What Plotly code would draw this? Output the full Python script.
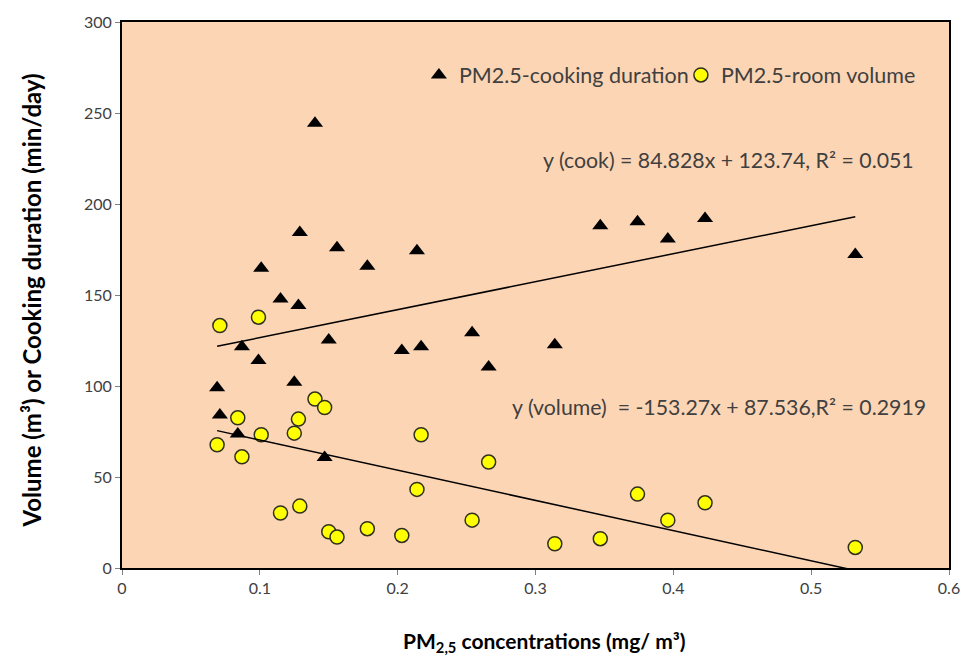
import numpy as np
import plotly.graph_objects as go

# PM2.5 concentration of each household (mg/m3)
pm25 = [0.069, 0.071, 0.084, 0.087, 0.099, 0.101, 0.115, 0.125, 0.128, 0.129,
        0.140, 0.147, 0.150, 0.156, 0.178, 0.203, 0.214, 0.217, 0.254, 0.266,
        0.314, 0.347, 0.374, 0.396, 0.423, 0.532]

# Cooking duration (min/day)
cooking_duration = [99.0, 84.0, 73.6, 121.6, 114.0, 164.7, 147.8, 102.1, 144.2, 184.4,
                    244.3, 60.7, 125.3, 176.0, 165.8, 119.5, 174.3, 121.6, 129.2, 110.5,
                    122.6, 188.0, 190.3, 180.8, 192.1, 172.2]

# Room volume (m3)
room_volume = [67.7, 133.2, 82.5, 61.1, 137.8, 73.2, 30.2, 74.1, 81.8, 34.0,
               92.8, 88.2, 19.9, 17.0, 21.6, 17.9, 43.2, 73.2, 26.3, 58.2,
               13.3, 16.1, 40.6, 26.3, 35.8, 11.3]

x_ticks = [0, 0.1, 0.2, 0.3, 0.4, 0.5, 0.6]
y_ticks = [0, 50, 100, 150, 200, 250, 300]

cook_eq = "y (cook) = 84.828x + 123.74, R² = 0.051"
vol_eq = "y (volume)  = -153.27x + 87.536,R² = 0.2919"

FONT = "Lato"
TEXT = "#404040"

x = np.array(pm25)
x_line = np.array([x.min(), x.max()])


def linear_fit(y):
    slope, intercept = np.polyfit(x, np.array(y), 1)
    return slope * x_line + intercept


fig = go.Figure()

fig.add_trace(go.Scatter(
    x=pm25, y=cooking_duration, mode="markers",
    name="PM2.5-cooking duration",
    marker=dict(symbol="triangle-up", size=14, color="black",
                line=dict(width=0)),
))
fig.add_trace(go.Scatter(
    x=pm25, y=room_volume, mode="markers",
    name="PM2.5-room volume",
    marker=dict(symbol="circle", size=14, color="#FFFF00",
                line=dict(width=1.5, color="#303020")),
))

# Linear trend lines
for y in (cooking_duration, room_volume):
    fig.add_trace(go.Scatter(
        x=x_line, y=linear_fit(y), mode="lines", showlegend=False,
        line=dict(color="black", width=1.5), hoverinfo="skip",
    ))

fig.add_annotation(x=0.4397, y=224, xref="x", yref="y", text=cook_eq,
                   showarrow=False, font=dict(family=FONT, size=21.3, color=TEXT))
fig.add_annotation(x=0.4332, y=88.5, xref="x", yref="y", text=vol_eq,
                   showarrow=False, font=dict(family=FONT, size=21.3, color=TEXT))

# Axis titles
fig.add_annotation(x=0.511, y=-0.135, xref="paper", yref="paper",
                   xanchor="center", yanchor="middle",
                   text="PM<sub>2,5</sub> concentrations (mg/ m³)",
                   showarrow=False,
                   font=dict(family=FONT, size=21, color="black", weight="bold"))
fig.add_annotation(x=-0.11, y=0.49, xref="paper", yref="paper",
                   xanchor="center", yanchor="middle",
                   text="Volume (m³) or Cooking duration (min/day)",
                   textangle=-90, showarrow=False,
                   font=dict(family=FONT, size=24, color="black", weight="bold"))

axis_common = dict(
    showgrid=False, zeroline=False,
    showline=True, linecolor="black", linewidth=2, mirror=True,
    ticks="outside", ticklen=5, tickcolor="#808080", tickwidth=1,
    tickfont=dict(family=FONT, size=16, color=TEXT),
)

fig.update_layout(
    width=972, height=659,
    margin=dict(l=122, r=12, t=22, b=91),
    paper_bgcolor="white",
    plot_bgcolor="#FCD5B5",
    showlegend=True,
    legend=dict(
        orientation="h", x=0.359, y=0.903, xanchor="left", yanchor="middle",
        bgcolor="rgba(0,0,0,0)", font=dict(family=FONT, size=21.5, color=TEXT),
        itemwidth=30, tracegroupgap=0, entrywidth=217,
    ),
    xaxis=dict(range=[0, 0.6], tickvals=x_ticks,
               ticktext=[f"{v:g}" for v in x_ticks], **axis_common),
    yaxis=dict(range=[0, 300], tickvals=y_ticks,
               ticktext=[str(v) for v in y_ticks], **axis_common),
)

fig.write_html("out.html")
